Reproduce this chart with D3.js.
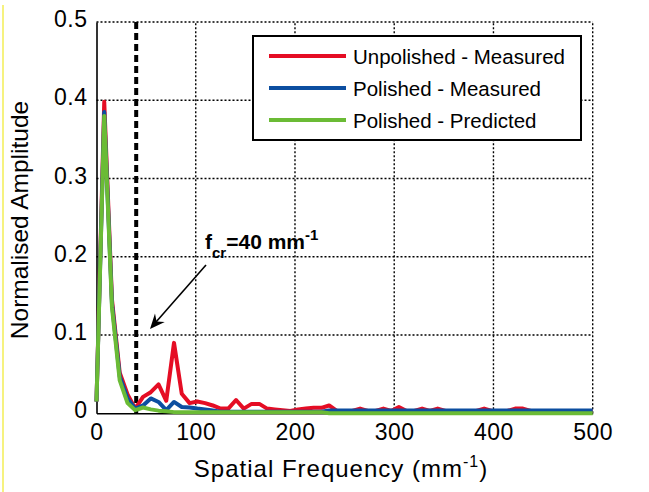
<!DOCTYPE html>
<html>
<head>
<meta charset="utf-8">
<script src="https://cdn.jsdelivr.net/npm/d3@7"></script>
<style>
  body { margin: 0; background: #fff; }
  svg { display: block; font-family: "Liberation Sans", Arial, sans-serif; }
</style>
</head>
<body>
<div id="chart"></div>
<script>
// spatial frequency samples (mm^-1)
const freqs = [0, 7.8, 15.6, 23.4, 31.3, 39.1, 46.9, 54.7, 62.5, 70.3, 78.1, 85.9, 93.8,
  101.6, 109.4, 117.2, 125, 132.8, 140.6, 148.4, 156.3, 164.1, 171.9, 179.7, 187.5, 195.3,
  203.1, 210.9, 218.8, 226.6, 234.4, 242.2, 250, 257.8, 265.6, 273.4, 281.3, 289.1, 296.9,
  304.7, 312.5, 320.3, 328.1, 335.9, 343.8, 351.6, 359.4, 367.2, 375, 382.8, 390.6, 398.4,
  406.3, 414.1, 421.9, 429.7, 437.5, 445.3, 453.1, 460.9, 468.8, 476.6, 484.4, 492.2, 500];

const unpolishedMeasured = [0.015, 0.398, 0.145, 0.052, 0.024, 0.006, 0.021, 0.027, 0.037,
  0.016, 0.090, 0.025, 0.013, 0.015, 0.013, 0.010, 0.006, 0.006, 0.017, 0.006, 0.012, 0.012,
  0.006, 0.005, 0.004, 0.003, 0.005, 0.006, 0.007, 0.007, 0.010, 0.003, 0.003, 0.003, 0.006,
  0.003, 0.003, 0.006, 0.003, 0.008, 0.003, 0.003, 0.006, 0.003, 0.006, 0.003, 0.003, 0.003,
  0.003, 0.003, 0.006, 0.003, 0.003, 0.003, 0.006, 0.006, 0.003, 0.003, 0.003, 0.003, 0.003,
  0.003, 0.003, 0.003, 0.003];

const polishedMeasured = [0.015, 0.385, 0.140, 0.047, 0.019, 0.006, 0.010, 0.019, 0.0145,
  0.004, 0.0145, 0.008, 0.0074, 0.006, 0.005, 0.0035, 0.002, 0.002, 0.002, 0.002, 0.002,
  0.002, 0.002, 0.002, 0.002, 0.002, 0.002, 0.002, 0.002, 0.002, 0.0035, 0.0035, 0.0035,
  0.0035, 0.0035, 0.0035, 0.0035, 0.0035, 0.0035, 0.0035, 0.0035, 0.0035, 0.0035, 0.0035,
  0.0035, 0.0035, 0.0035, 0.0035, 0.0035, 0.0035, 0.0035, 0.0035, 0.0035, 0.0035, 0.0035,
  0.0035, 0.0035, 0.0035, 0.0035, 0.0035, 0.0035, 0.0035, 0.0035, 0.0035, 0.0035];

const polishedPredicted = [0.015, 0.380, 0.135, 0.042, 0.013, 0.004, 0.0074, 0.005, 0.0034,
  0.0026, 0.0015, 0.0015, 0.0015, 0.0015, 0.0015, 0.0015, 0.0015, 0.0015, 0.0015, 0.0015,
  0.0015, 0.0015, 0.0015, 0.0015, 0.0015, 0.0015, 0.0015, 0.0015, 0.0015, 0.0015, 0, 0, 0,
  0, 0, 0, 0, 0, 0, 0, 0, 0, 0, 0, 0, 0, 0, 0, 0, 0, 0, 0, 0, 0, 0, 0, 0, 0, 0, 0, 0, 0, 0, 0, 0];

const seriesNames = ["Unpolished - Measured", "Polished - Measured", "Polished - Predicted"];
const seriesColors = ["#e50d24", "#0c4ea0", "#6bbb35"];

const xTicks = [0, 100, 200, 300, 400, 500];
const yTicks = [0, 0.1, 0.2, 0.3, 0.4, 0.5];
const fCritical = 40;

const width = 649, height = 492;

const svg = d3.select("#chart")
  .append("svg")
  .attr("width", width)
  .attr("height", height);

const xScale = d3.scaleLinear().domain([0, 500]).range([96.5, 592.7]);
const yScale = d3.scaleLinear().domain([0, 0.5]).range([413.3, 22]);

// thin yellow line on the left edge
svg.append("line")
  .attr("x1", 3).attr("x2", 3)
  .attr("y1", 5).attr("y2", height)
  .attr("stroke", "#f3ee55")
  .attr("stroke-width", 1.5);

// dotted grid
const grid = svg.append("g")
  .attr("stroke", "#000")
  .attr("stroke-width", 1.4)
  .attr("stroke-dasharray", "2,2");

grid.selectAll(".gx")
  .data(xTicks.filter(d => d > 0))
  .join("line")
  .attr("x1", d => xScale(d)).attr("x2", d => xScale(d))
  .attr("y1", yScale(0)).attr("y2", yScale(0.5));

grid.selectAll(".gy")
  .data(yTicks.filter(d => d > 0))
  .join("line")
  .attr("x1", xScale(0)).attr("x2", xScale(500))
  .attr("y1", d => yScale(d)).attr("y2", d => yScale(d));

// axes (solid left / bottom lines, no visible tick marks)
const xAxis = svg.append("g")
  .attr("transform", `translate(0,${yScale(0)})`)
  .call(d3.axisBottom(xScale).tickValues(xTicks).tickSize(0).tickPadding(10).tickFormat(d3.format("d")));

const yAxis = svg.append("g")
  .attr("transform", `translate(${xScale(0)},0)`)
  .call(d3.axisLeft(yScale).tickValues(yTicks).tickSize(0).tickPadding(9)
    .tickFormat(d => d === 0 ? "0" : d3.format(".1f")(d)));

[xAxis, yAxis].forEach(ax => {
  ax.select(".domain").attr("stroke", "#000").attr("stroke-width", 1.6);
  ax.selectAll("text")
    .attr("fill", "#000")
    .style("font-family", "'Liberation Sans', Arial, sans-serif")
    .style("font-size", "23px")
    .style("letter-spacing", "0.5px");
});
yAxis.selectAll("text").attr("dy", "0.2em");
xAxis.selectAll("text").attr("dy", "0.72em");

// critical frequency marker
svg.append("line")
  .attr("x1", xScale(fCritical)).attr("x2", xScale(fCritical))
  .attr("y1", yScale(0.5)).attr("y2", yScale(0))
  .attr("stroke", "#000")
  .attr("stroke-width", 4)
  .attr("stroke-dasharray", "7,4");

// series
const line = d3.line()
  .x((d, i) => xScale(freqs[i]))
  .y(d => yScale(d));

[unpolishedMeasured, polishedMeasured, polishedPredicted].forEach((vals, k) => {
  svg.append("path")
    .datum(vals)
    .attr("fill", "none")
    .attr("stroke", seriesColors[k])
    .attr("stroke-width", 4)
    .attr("stroke-linejoin", "round")
    .attr("d", line);
});

// annotation
const ann = svg.append("text")
  .attr("x", 205)
  .attr("y", 249)
  .attr("font-weight", "bold")
  .attr("font-size", 21)
  .attr("fill", "#000");
ann.append("tspan").text("f");
ann.append("tspan").attr("dy", 9).attr("font-size", 15).text("cr");
ann.append("tspan").attr("dy", -9).text("=40 mm");
ann.append("tspan").attr("dy", -9).attr("font-size", 15).text("-1");

const ax0 = 206, ay0 = 265, ax1 = 150, ay1 = 329;
svg.append("line")
  .attr("x1", ax0).attr("y1", ay0)
  .attr("x2", ax1 + 6).attr("y2", ay1 - 7)
  .attr("stroke", "#000")
  .attr("stroke-width", 1.6);

const ang = Math.atan2(ay1 - ay0, ax1 - ax0);
const headPts = [[0, 0], [-15, -6.5], [-10, 0], [-15, 6.5]].map(([u, v]) => [
  ax1 + u * Math.cos(ang) - v * Math.sin(ang),
  ay1 + u * Math.sin(ang) + v * Math.cos(ang)
]);
svg.append("path")
  .attr("d", "M" + headPts.map(p => p.join(",")).join("L") + "Z")
  .attr("fill", "#000");

// legend
const legend = svg.append("g").attr("transform", "translate(253,36)");
legend.append("rect")
  .attr("width", 328)
  .attr("height", 104)
  .attr("fill", "#fff")
  .attr("stroke", "#000")
  .attr("stroke-width", 2);

const rows = legend.selectAll(".row")
  .data(seriesNames)
  .join("g")
  .attr("transform", (d, i) => `translate(0,${20 + i * 32})`);

rows.append("line")
  .attr("x1", 16).attr("x2", 93)
  .attr("stroke", (d, i) => seriesColors[i])
  .attr("stroke-width", 4);

rows.append("text")
  .attr("x", 100)
  .attr("y", 7.5)
  .attr("font-size", 20.5)
  .attr("fill", "#000")
  .text(d => d);

// axis titles
const xt = svg.append("text")
  .attr("x", 341)
  .attr("y", 477)
  .attr("text-anchor", "middle")
  .attr("font-size", 24)
  .attr("letter-spacing", 1)
  .attr("fill", "#000");
xt.append("tspan").text("Spatial Frequency (mm");
xt.append("tspan").attr("dy", -10).attr("font-size", 16).text("-1");
xt.append("tspan").attr("dy", 10).text(")");

svg.append("text")
  .attr("transform", "translate(28,220) rotate(-90)")
  .attr("text-anchor", "middle")
  .attr("font-size", 24.5)
  .attr("fill", "#000")
  .text("Normalised Amplitude");
</script>
</body>
</html>
